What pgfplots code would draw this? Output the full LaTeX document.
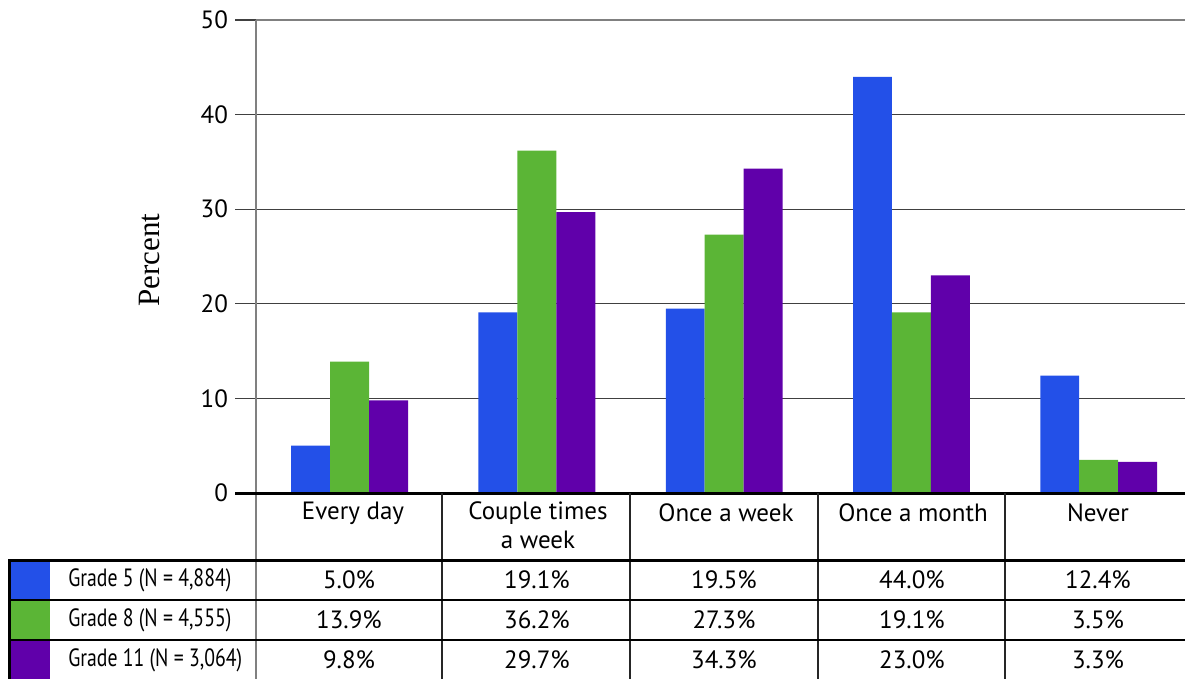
\documentclass[border=0pt]{standalone}
\usepackage{fontspec}
\setmainfont{PT Sans}
\newfontfamily\timesfont{Liberation Serif}
\usepackage{pgfplots}
\pgfplotsset{compat=1.18}
\definecolor{gfive}{HTML}{2350E8}
\definecolor{geight}{HTML}{5BB536}
\definecolor{geleven}{HTML}{6000AA}
\definecolor{axgray}{HTML}{808080}
\newcommand{\cond}[1]{\scalebox{0.79}[1]{#1}}

\begin{document}
\begin{tikzpicture}[font=\fontsize{12.5bp}{15bp}\selectfont]
\begin{axis}[
  scale only axis, width=464.5bp, height=236.5bp,
  at={(0,0)}, anchor=south west,
  xmin=-0.5, xmax=4.461, ymin=0, ymax=50,
  ybar=0pt, bar width=0.208,
  axis line style={draw=none},
  xtick=\empty,
  ytick={0,10,20,30,40},
  extra y ticks={50},
  extra y tick style={grid style={axgray, line width=1bp}, tick style={axgray, line width=1bp}},
  ymajorgrids, grid style={black!75, line width=0.6bp},
  tick align=outside, major tick length=10.5bp,
  ytick style={black!75, line width=0.6bp},
  yticklabel style={/pgf/number format/assume math mode=true},
  clip=false]
\addplot[fill=gfive, draw=none] coordinates {(0,5.0) (1,19.1) (2,19.5) (3,44.0) (4,12.4)};
\addplot[fill=geight, draw=none] coordinates {(0,13.9) (1,36.2) (2,27.3) (3,19.1) (4,3.5)};
\addplot[fill=geleven, draw=none] coordinates {(0,9.8) (1,29.7) (2,34.3) (3,23.0) (4,3.3)};
\end{axis}
\begin{scope}[x=0.5bp, y=-0.5bp, shift={(-256,-493)}]
  % axis frame
  \draw[axgray, line width=1bp] (256,20) -- (256,679);
  \draw[black, line width=1.5bp] (235,493) -- (1185,493);
  \node[rotate=90, font=\timesfont\fontsize{15.5bp}{18bp}\selectfont] at (150,260) {Percent};
  % table
  \foreach \x in {442,630,818,1005} \draw[black!85, line width=0.6bp] (\x,493) -- (\x,679);
  \fill[gfive] (11,560) rectangle (50,600);
  \fill[geight] (11,600) rectangle (50,640);
  \fill[geleven] (11,640) rectangle (50,679);
  \draw[line width=0.7bp] (10,600) -- (1185,600) (10,640) -- (1185,640);
  \draw[line width=1.5bp] (10,560) -- (1185,560);
  \draw[line width=1.5bp] (10,559) -- (10,679);
  % header
  \node at (353,513) {Every day};
  \node at (538,513) {Couple times};
  \node at (538,540) {a week};
  \node at (726,513) {Once a week};
  \node at (913,513) {Once a month};
  \node at (1098,513) {Never};
  % legend labels
  \node[anchor=west, inner sep=0pt] at (68,580) {\cond{Grade 5 (N = 4,884)}};
  \node[anchor=west, inner sep=0pt] at (68,620) {\cond{Grade 8 (N = 4,555)}};
  \node[anchor=west, inner sep=0pt] at (68,660) {\cond{Grade 11 (N = 3,064)}};
  % values
  \foreach \x/\a/\b/\c in {349/5.0/13.9/9.8, 537/19.1/36.2/29.7, 724/19.5/27.3/34.3, 912/44.0/19.1/23.0, 1098/12.4/3.5/3.3} {
    \node at (\x,580) {\a\%};
    \node at (\x,620) {\b\%};
    \node at (\x,660) {\c\%};
  }
  \pgfresetboundingbox
  \path[use as bounding box] (0,0) rectangle (1185,679);
\end{scope}
\end{tikzpicture}
\end{document}
